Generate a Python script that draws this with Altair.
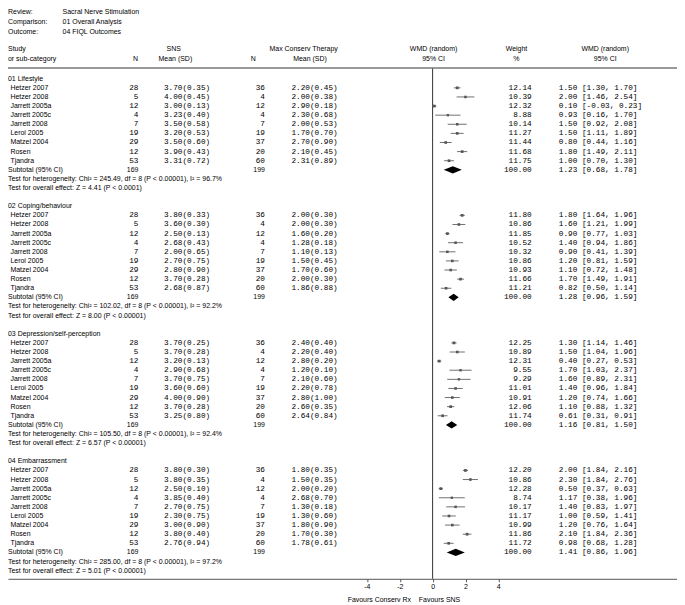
import altair as alt
import pandas as pd

# ---------------- data ----------------
REVIEW = "Sacral Nerve Stimulation"
COMPARISON = "01 Overall Analysis"
OUTCOME = "04 FIQL Outcomes"

SECTIONS = ["01 Lifestyle", "02 Coping/behaviour", "03 Depression/self-perception", "04 Embarrassment"]
STUDIES = ["Hetzer 2007", "Hetzer 2008", "Jarrett 2005a", "Jarrett 2005c", "Jarrett 2008",
           "Leroi 2005", "Matzel 2004", "Rosen", "Tjandra"]
N_SNS = [28, 5, 12, 4, 7, 19, 29, 12, 53]
N_CON = [36, 4, 12, 4, 7, 19, 37, 20, 60]
TOTAL_SNS = 169
TOTAL_CON = 199

SNS_MEAN = [
    [3.70, 4.00, 3.00, 3.23, 3.50, 3.20, 3.50, 3.90, 3.31],
    [3.80, 3.60, 2.50, 2.68, 2.00, 2.70, 2.80, 3.70, 2.68],
    [3.70, 3.70, 3.20, 2.90, 3.70, 3.60, 4.00, 3.70, 3.25],
    [3.80, 3.80, 2.50, 3.85, 2.70, 2.30, 3.00, 3.80, 2.76]]
SNS_SD = [
    [0.35, 0.45, 0.13, 0.40, 0.58, 0.53, 0.60, 0.43, 0.72],
    [0.33, 0.30, 0.13, 0.43, 0.65, 0.75, 0.90, 0.28, 0.87],
    [0.25, 0.28, 0.13, 0.68, 0.75, 0.60, 0.90, 0.28, 0.80],
    [0.30, 0.35, 0.10, 0.40, 0.75, 0.75, 0.90, 0.40, 0.94]]
CON_MEAN = [
    [2.20, 2.00, 2.90, 2.30, 2.00, 1.70, 2.70, 2.10, 2.31],
    [2.00, 2.00, 1.60, 1.28, 1.10, 1.50, 1.70, 2.00, 1.86],
    [2.40, 2.20, 2.80, 1.20, 2.10, 2.20, 2.80, 2.60, 2.64],
    [1.80, 1.50, 2.00, 2.68, 1.30, 1.30, 1.80, 1.70, 1.78]]
CON_SD = [
    [0.45, 0.38, 0.18, 0.68, 0.53, 0.70, 0.90, 0.45, 0.89],
    [0.30, 0.30, 0.20, 0.18, 0.13, 0.45, 0.60, 0.30, 0.88],
    [0.40, 0.40, 0.20, 0.10, 0.60, 0.78, 1.00, 0.35, 0.84],
    [0.35, 0.35, 0.20, 0.70, 0.18, 0.60, 0.90, 0.30, 0.61]]
WEIGHT = [
    [12.14, 10.39, 12.32, 8.88, 10.14, 11.27, 11.44, 11.68, 11.75],
    [11.80, 10.86, 11.85, 10.52, 10.32, 10.86, 10.93, 11.66, 11.21],
    [12.25, 10.89, 12.31, 9.55, 9.29, 11.01, 10.91, 12.06, 11.74],
    [12.20, 10.86, 12.28, 8.74, 10.17, 11.17, 10.99, 11.86, 11.72]]
WMD = [
    [1.50, 2.00, 0.10, 0.93, 1.50, 1.50, 0.80, 1.80, 1.00],
    [1.80, 1.60, 0.90, 1.40, 0.90, 1.20, 1.10, 1.70, 0.82],
    [1.30, 1.50, 0.40, 1.70, 1.60, 1.40, 1.20, 1.10, 0.61],
    [2.00, 2.30, 0.50, 1.17, 1.40, 1.00, 1.20, 2.10, 0.98]]
LOW = [
    [1.30, 1.46, -0.03, 0.16, 0.92, 1.11, 0.44, 1.49, 0.70],
    [1.64, 1.21, 0.77, 0.94, 0.41, 0.81, 0.72, 1.49, 0.50],
    [1.14, 1.04, 0.27, 1.03, 0.89, 0.96, 0.74, 0.88, 0.31],
    [1.84, 1.84, 0.37, 0.38, 0.83, 0.59, 0.76, 1.84, 0.68]]
HIGH = [
    [1.70, 2.54, 0.23, 1.70, 2.08, 1.89, 1.16, 2.11, 1.30],
    [1.96, 1.99, 1.03, 1.86, 1.39, 1.59, 1.48, 1.91, 1.14],
    [1.46, 1.96, 0.53, 2.37, 2.31, 1.84, 1.66, 1.32, 0.91],
    [2.16, 2.76, 0.63, 1.96, 1.97, 1.41, 1.64, 2.36, 1.28]]
SUB_WMD = [1.23, 1.28, 1.16, 1.41]
SUB_LOW = [0.68, 0.96, 0.81, 0.86]
SUB_HIGH = [1.78, 1.59, 1.50, 1.96]
HET_CHI = [245.49, 102.02, 105.50, 285.00]
HET_DF = [8, 8, 8, 8]
HET_I2 = [96.7, 92.2, 92.4, 97.2]
Z_VAL = [4.41, 8.00, 6.57, 5.01]
Z_P = ["P < 0.0001", "P < 0.00001", "P < 0.00001", "P < 0.00001"]
AXIS_TICKS = [-4, -2, 0, 2, 4]

# ---------------- layout ----------------
KX = 0.985                    # horizontal compression
W, H = 672, 572
P = 9.15                      # pixels per row
TOP = -7.29 - 3 / P
BOTTOM = TOP + H / P
X0 = 433.0 * KX               # pixel of zero effect
UNIT = 16.75 * KX             # pixels per effect unit
XL, XR = -X0 / UNIT, (W - X0) / UNIT

SANS = "Liberation Sans"
MONO = "Liberation Mono"
INK = "#000000"
FS = 7
FM = 7.75


def px(v):
    return v * KX


yscale = alt.Scale(domain=[TOP, BOTTOM], reverse=True, nice=False, zero=False)
xscale = alt.Scale(domain=[XL, XR], nice=False, zero=False)
xaxis = alt.Axis(values=AXIS_TICKS, grid=False, title=None, labelExpr="'' + datum.value",
                 labelFont=SANS, labelFontSize=FS, labelColor=INK, labelPadding=1,
                 tickSize=3, tickColor="#555", domainColor="#555", domainWidth=1)


def txt(rows, texts, x, align="left", mono=False, size=None):
    df = pd.DataFrame({"row": rows, "t": texts})
    return alt.Chart(df).mark_text(
        align=align, baseline="middle", font=MONO if mono else SANS,
        fontSize=size or (FM if mono else FS), color=INK
    ).encode(x=alt.value(px(x)), y=alt.Y("row:Q", scale=yscale, axis=None), text="t:N")


HDR_LINE = -1.18
layers = []

# top info
layers.append(txt([-7.29, -6.24, -5.17], ["Review:", "Comparison:", "Outcome:"], 0))
layers.append(txt([-7.29, -6.24, -5.17], [REVIEW, COMPARISON, OUTCOME], 55.7))
# column headers
layers.append(txt([-3.23, -2.15], ["Study", "or sub-category"], 0))
layers.append(txt([-2.15], ["N"], 130, "center"))
layers.append(txt([-3.23], ["SNS"], 169, "center"))
layers.append(txt([-2.15], ["Mean (SD)"], 170.7, "center"))
layers.append(txt([-2.15], ["N"], 250, "center"))
layers.append(txt([-3.23], ["Max Conserv Therapy"], 301.5, "center"))
layers.append(txt([-2.15], ["Mean (SD)"], 308, "center"))
layers.append(txt([-3.23, -2.15], ["WMD (random)", "95% CI"], 434, "center"))
layers.append(txt([-3.23, -2.15], ["Weight", "%"], 518.5, "center"))
layers.append(txt([-3.23, -2.15], ["WMD (random)", "95% CI"], 609, "center"))

# body
lab_r, lab_t = [], []
st_r, st_t = [], []
n1, n2, m1, m2, wt, ci = [], [], [], [], [], []
tot_r = []
forest = []
diam = []
for s, sec in enumerate(SECTIONS):
    base = 14 * s
    lab_r.append(base); lab_t.append(sec)
    for i, name in enumerate(STUDIES):
        r = base + 1 + i
        st_r.append(r); st_t.append(name)
        n1.append(str(N_SNS[i])); n2.append(str(N_CON[i]))
        m1.append(f"{SNS_MEAN[s][i]:.2f}({SNS_SD[s][i]:.2f})")
        m2.append(f"{CON_MEAN[s][i]:.2f}({CON_SD[s][i]:.2f})")
        wt.append(f"{WEIGHT[s][i]:.2f}")
        ci.append(f"{WMD[s][i]:.2f} [{LOW[s][i]:.2f}, {HIGH[s][i]:.2f}]")
        forest.append({"row": r, "est": WMD[s][i], "lo": LOW[s][i], "hi": HIGH[s][i], "w": WEIGHT[s][i]})
    rs = base + 10
    tot_r.append(rs)
    lab_r += [rs, rs + 1, rs + 2]
    lab_t += ["Subtotal (95% CI)",
              f"Test for heterogeneity: Chi\u00b2 = {HET_CHI[s]:.2f}, df = {HET_DF[s]} (P < 0.00001), I\u00b2 = {HET_I2[s]:.1f}%",
              f"Test for overall effect: Z = {Z_VAL[s]:.2f} ({Z_P[s]})"]
    hh = 0.39
    diam += [{"sec": sec, "x": SUB_LOW[s], "yt": rs, "yb": rs},
             {"sec": sec, "x": SUB_WMD[s], "yt": rs - hh, "yb": rs + hh},
             {"sec": sec, "x": SUB_HIGH[s], "yt": rs, "yb": rs}]

rows_all = []
for s in range(4):
    rows_all += [14 * s + 1 + i for i in range(9)]

layers.append(txt(lab_r, lab_t, 0))
layers.append(txt(st_r, st_t, 2.5))
layers.append(txt(rows_all, n1, 133, "right", mono=True))
layers.append(txt(rows_all, m1, 159, "left", mono=True))
layers.append(txt(rows_all, n2, 262, "right", mono=True))
layers.append(txt(rows_all, m2, 289, "left", mono=True))
layers.append(txt(rows_all, wt, 534, "right", mono=True))
layers.append(txt(rows_all, ci, 561.7, "left", mono=True))
layers.append(txt(tot_r, [str(TOTAL_SNS)] * 4, 133, "right"))
layers.append(txt(tot_r, [str(TOTAL_CON)] * 4, 262, "right"))
layers.append(txt(tot_r, ["100.00"] * 4, 534, "right", mono=True))
layers.append(txt(tot_r, [f"{SUB_WMD[s]:.2f} [{SUB_LOW[s]:.2f}, {SUB_HIGH[s]:.2f}]" for s in range(4)],
                  561.7, "left", mono=True))
layers.append(txt([57.2], ["Favours Conserv Rx"], 411, "right"))
layers.append(txt([57.2], ["Favours SNS"], 419, "left"))

# lines
hdr = alt.Chart(pd.DataFrame({"row": [HDR_LINE]})).mark_rule(color="#777", strokeWidth=1.5).encode(
    x=alt.value(0), x2=alt.value(W), y=alt.Y("row:Q", scale=yscale, axis=None))
zero = alt.Chart(pd.DataFrame({"x": [0.0], "y1": [HDR_LINE], "y2": [BOTTOM]})).mark_rule(
    color="#333", strokeWidth=1).encode(
    x=alt.X("x:Q", scale=xscale, axis=xaxis),
    y=alt.Y("y1:Q", scale=yscale, axis=None), y2="y2:Q")

fdf = pd.DataFrame(forest)
cil = alt.Chart(fdf).mark_rule(color="#707070", strokeWidth=1).encode(
    x=alt.X("lo:Q", scale=xscale, axis=xaxis), x2="hi:Q",
    y=alt.Y("row:Q", scale=yscale, axis=None))
sq = alt.Chart(fdf).mark_square(color="#555", opacity=1).encode(
    x=alt.X("est:Q", scale=xscale, axis=xaxis),
    y=alt.Y("row:Q", scale=yscale, axis=None),
    size=alt.Size("w:Q", scale=alt.Scale(domain=[0, 13], range=[0, 8]), legend=None))
dia = alt.Chart(pd.DataFrame(diam)).mark_area(color="#000", opacity=1).encode(
    x=alt.X("x:Q", scale=xscale, axis=xaxis),
    y=alt.Y("yt:Q", scale=yscale, axis=None), y2="yb:Q", detail="sec:N")

chart = alt.layer(zero, hdr, cil, sq, dia, *layers).properties(
    width=W, height=H,
    autosize=alt.AutoSizeParams(type="none"),
    padding={"left": 0, "top": 0, "right": 0, "bottom": 29},
).configure_view(stroke=None)

chart.save("out.html", embed_options={"renderer": "svg", "actions": False})
